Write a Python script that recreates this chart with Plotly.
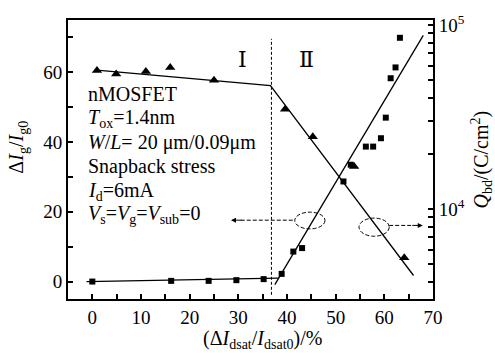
import plotly.graph_objects as go

# ---------------- data ----------------
# squares: ΔIg/Ig0 (left linear axis)
sq_x = [0, 16.2, 23.9, 29.6, 35.2, 38.9, 41.3, 43.1, 51.6, 53.1, 56.2, 57.7, 59.3, 60.3, 61.3, 62.3, 63.2]
sq_y = [0, 0.2, 0.2, 0.4, 0.7, 2.2, 8.6, 9.6, 28.7, 33.5, 38.7, 38.7, 41.1, 47.0, 58.3, 61.4, 69.9]
# triangles: Qbd (right log axis)
tri_x = [0.95, 4.9, 11.0, 16.0, 25.0, 39.6, 45.3, 53.8, 64.1]
tri_q = [5.66e4, 5.41e4, 5.58e4, 5.87e4, 5.01e4, 3.48e4, 2.47e4, 1.70e4, 5.43e3]
# fitted lines
sq_fit1_x = [-1.2, 38.2]
sq_fit1_y = [0.0, 1.0]
sq_fit2_x = [37.5, 68.0]
sq_fit2_y = [-0.9, 70.6]
tri_fit_x = [1.5, 36.6, 66.0]
tri_fit_q = [5.66e4, 4.68e4, 4.35e3]
boundary_x = 36.8

x_ticks = list(range(-5, 75, 5))
x_text = [str(v) if v % 10 == 0 and v >= 0 else "" for v in x_ticks]
y_ticks = list(range(0, 80, 10))
y_text = [str(v) if v % 20 == 0 else "" for v in y_ticks]
q_ticks = [4e3, 5e3, 6e3, 7e3, 8e3, 9e3, 1e4, 2e4, 3e4, 4e4, 5e4, 6e4, 7e4, 8e4, 9e4, 1e5]
q_text = ["10<sup>4</sup>" if v == 1e4 else ("10<sup>5</sup>" if v == 1e5 else "") for v in q_ticks]

FONT = "Liberation Serif"
BLACK = "#000000"
TICKFONT = dict(family=FONT, size=19, color=BLACK)

fig = go.Figure()
fig.add_trace(go.Scatter(x=sq_fit1_x, y=sq_fit1_y, mode="lines", line=dict(color=BLACK, width=1.3), showlegend=False))
fig.add_trace(go.Scatter(x=sq_fit2_x, y=sq_fit2_y, mode="lines", line=dict(color=BLACK, width=1.3), showlegend=False))
fig.add_trace(go.Scatter(x=sq_x, y=sq_y, mode="markers", marker=dict(symbol="square", size=6, color=BLACK), showlegend=False))
fig.add_trace(go.Scatter(x=tri_fit_x, y=tri_fit_q, mode="lines", yaxis="y2", line=dict(color=BLACK, width=1.3), showlegend=False))
fig.add_trace(go.Scatter(x=tri_x, y=tri_q, mode="markers", yaxis="y2", marker=dict(symbol="triangle-up", size=9, color=BLACK), showlegend=False))

# region boundary
fig.add_shape(type="line", x0=boundary_x, x1=boundary_x, y0=-3.8, y1=69.6, xref="x", yref="y",
              line=dict(color=BLACK, width=1, dash="3px,2px"))
# ellipses
fig.add_shape(type="circle", x0=41.6, x1=47.8, y0=15.1, y1=19.9, xref="x", yref="y",
              line=dict(color=BLACK, width=1, dash="4px,2px"))
fig.add_shape(type="circle", x0=54.8, x1=61.0, y0=13.0, y1=18.2, xref="x", yref="y",
              line=dict(color=BLACK, width=1, dash="4px,2px"))
# dashed arrows
fig.add_shape(type="line", x0=30.5, x1=41.6, y0=17.6, y1=17.6, xref="x", yref="y",
              line=dict(color=BLACK, width=1, dash="4px,2px"))
fig.add_annotation(x=28.5, y=17.6, xref="x", yref="y", ax=12, ay=0, text="", showarrow=True,
                   arrowhead=2, arrowsize=1, arrowwidth=1, arrowcolor=BLACK)
fig.add_shape(type="line", x0=61.0, x1=65.5, y0=16.1, y1=16.1, xref="x", yref="y",
              line=dict(color=BLACK, width=1, dash="4px,2px"))
fig.add_annotation(x=67.9, y=16.1, xref="x", yref="y", ax=-12, ay=0, text="", showarrow=True,
                   arrowhead=2, arrowsize=1, arrowwidth=1, arrowcolor=BLACK)

W, H = 495, 353
L, R, T, B = 68, 62, 17, 54
pw, ph = W - L - R, H - T - B

def px(xp):
    return (xp - L) / pw

def py(yp):
    return (H - B - yp) / ph

# text block
lines = [
    "nMOSFET",
    "<i>T</i><sub>ox</sub>=1.4nm",
    "<i>W</i>/<i>L</i>= 20 μm/0.09μm",
    "Snapback stress",
    "<i>I</i><sub>d</sub>=6mA",
    "<i>V</i><sub>s</sub>=<i>V</i><sub>g</sub>=<i>V</i><sub>sub</sub>=0",
]
ys = [92, 117, 141, 165, 190, 214]
for t, yy in zip(lines, ys):
    fig.add_annotation(x=px(86), y=py(yy), xref="paper", yref="paper", text=t, showarrow=False,
                       xanchor="left", yanchor="middle", font=dict(family=FONT, size=20, color=BLACK))

for t, xx in (("Ⅰ", 242), ("Ⅱ", 306)):
    fig.add_annotation(x=px(xx), y=py(57), xref="paper", yref="paper", text=t, showarrow=False,
                       xanchor="center", yanchor="middle",
                       font=dict(family="DejaVu Serif, Liberation Serif", size=22, color=BLACK))

# axis titles
fig.add_annotation(x=px(18), y=py(146), xref="paper", yref="paper", textangle=-90, showarrow=False,
                   xanchor="center", yanchor="middle",
                   text="Δ<i>I</i><sub>g</sub>/<i>I</i><sub>g0</sub>", font=dict(family=FONT, size=20, color=BLACK))
fig.add_annotation(x=px(481), y=py(158), xref="paper", yref="paper", textangle=-90, showarrow=False,
                   xanchor="center", yanchor="middle",
                   text="<i>Q</i><sub>bd</sub>/(C/cm<sup>2</sup>)", font=dict(family=FONT, size=20, color=BLACK))
fig.add_annotation(x=px(262), y=py(340), xref="paper", yref="paper", showarrow=False,
                   xanchor="center", yanchor="middle",
                   text="(Δ<i>I</i><sub>dsat</sub>/<i>I</i><sub>dsat0</sub>)/%", font=dict(family=FONT, size=20, color=BLACK))

fig.update_layout(
    width=W, height=H,
    margin=dict(l=L, r=R, t=T, b=B),
    paper_bgcolor="white", plot_bgcolor="white",
    font=dict(family=FONT, size=19, color=BLACK),
    xaxis=dict(range=[-5, 70], tickmode="array", tickvals=x_ticks, ticktext=x_text,
               ticks="inside", ticklen=5, tickwidth=1.5, tickcolor=BLACK,
               showline=True, linewidth=2, linecolor=BLACK, mirror=True,
               showgrid=False, zeroline=False, tickfont=TICKFONT),
    yaxis=dict(range=[-5, 75], tickmode="array", tickvals=y_ticks, ticktext=y_text,
               ticks="inside", ticklen=5, tickwidth=1.5, tickcolor=BLACK,
               showline=True, linewidth=2, linecolor=BLACK, mirror=True,
               showgrid=False, zeroline=False, tickfont=TICKFONT),
    yaxis2=dict(type="log", range=[3.5108, 5.0269], overlaying="y", side="right",
                tickmode="array", tickvals=q_ticks, ticktext=q_text,
                ticks="inside", ticklen=5, tickwidth=1.5, tickcolor=BLACK,
                showline=True, linewidth=2, linecolor=BLACK,
                showgrid=False, zeroline=False, tickfont=TICKFONT),
)

fig.write_html("out.html")
